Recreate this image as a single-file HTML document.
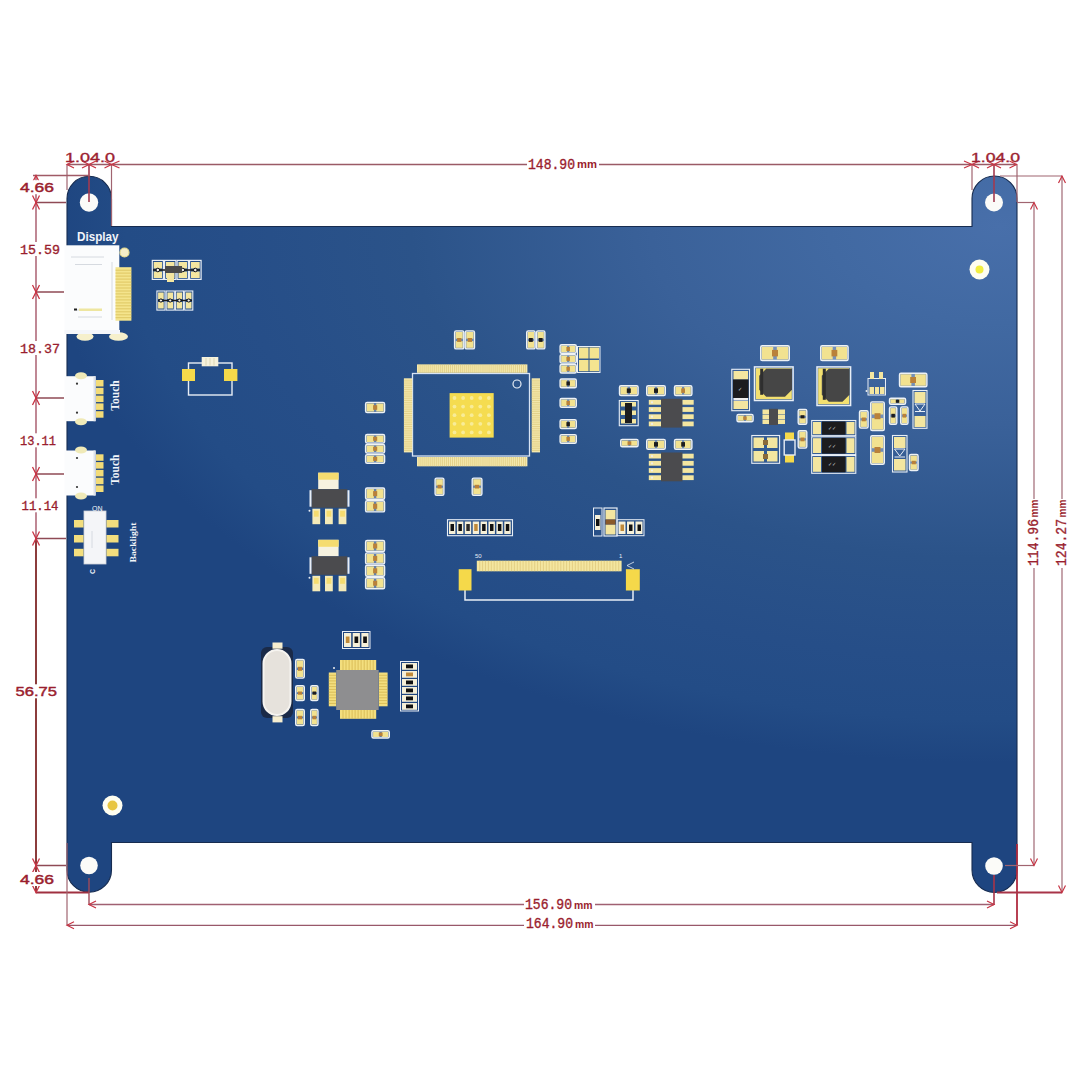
<!DOCTYPE html>
<html><head><meta charset="utf-8">
<style>
html,body{margin:0;padding:0;background:#fff;width:1080px;height:1080px;overflow:hidden}
svg{display:block}
.dm{font-family:"Liberation Mono",monospace;font-weight:normal;fill:#9a1e2e;stroke:#9a1e2e;stroke-width:0.35}
.ds{font-family:"Liberation Sans",sans-serif;font-weight:bold;fill:#9a1e2e}
.lbl{font-family:"Liberation Sans",sans-serif;font-weight:bold;fill:#f2f5fa}
</style></head>
<body>
<svg width="1080" height="1080" viewBox="0 0 1080 1080">
<defs>
<radialGradient id="bg" gradientUnits="userSpaceOnUse" cx="1000" cy="226" r="950" gradientTransform="translate(1000 226) scale(1 0.565) translate(-1000 -226)">
<stop offset="0" stop-color="#486faa"/>
<stop offset="0.18" stop-color="#4169a2"/>
<stop offset="0.368" stop-color="#3a6199"/>
<stop offset="0.62" stop-color="#2b5389"/>
<stop offset="0.805" stop-color="#264e88"/>
<stop offset="0.92" stop-color="#234c86"/>
<stop offset="1" stop-color="#1e4580"/>
</radialGradient>
</defs>
<rect width="1080" height="1080" fill="#fff"/>

<path fill="url(#bg)" stroke="#172c50" stroke-width="1.1" d="M67,198.5 A22.25,22.25 0 0 1 111.5,198.5 L111.5,226.5 L972,226.5 L972,198.5 A22.5,22.5 0 0 1 1017,198.5 L1017,870 A22.5,22.5 0 0 1 972,870 L972,842.5 L111.5,842.5 L111.5,870 A22.25,22.25 0 0 1 67,870 Z"/>
<g fill="#fbfbf8"><circle cx="89" cy="202.5" r="9.2"/><circle cx="994" cy="202.5" r="9"/><circle cx="89" cy="865.5" r="8.8"/><circle cx="994" cy="866" r="8.8"/></g>
<circle cx="979.5" cy="269.5" r="10" fill="#fffef0"/><circle cx="979.5" cy="269.5" r="4" fill="#f2ee40"/>
<circle cx="112.5" cy="805.5" r="10" fill="#fffef0"/><circle cx="112.5" cy="805.5" r="5" fill="#e8c640"/>
<rect x="64.5" y="245.3" width="54.8" height="88.0" fill="#fbfcfd" />
<g stroke="#d6dae0" stroke-width="1"><line x1="71" y1="257" x2="104" y2="257"/><line x1="75" y1="264.5" x2="102" y2="264.5"/><line x1="74" y1="310" x2="102" y2="310"/><line x1="78" y1="317" x2="102" y2="317"/><line x1="112" y1="262" x2="112" y2="320"/></g>
<rect x="74.0" y="308.5" width="3.0" height="2.0" fill="#222" />
<rect x="79.0" y="308.5" width="23.0" height="2.5" fill="#eee6a0" />
<rect x="115.5" y="267.2" width="15.9" height="53.5" fill="#f4e48c" />
<g stroke="#d0b448" stroke-width="0.6"><line x1="115.5" y1="270.2" x2="131.4" y2="270.2"/><line x1="115.5" y1="273.1" x2="131.4" y2="273.1"/><line x1="115.5" y1="276.1" x2="131.4" y2="276.1"/><line x1="115.5" y1="279.1" x2="131.4" y2="279.1"/><line x1="115.5" y1="282.1" x2="131.4" y2="282.1"/><line x1="115.5" y1="285.0" x2="131.4" y2="285.0"/><line x1="115.5" y1="288.0" x2="131.4" y2="288.0"/><line x1="115.5" y1="291.0" x2="131.4" y2="291.0"/><line x1="115.5" y1="293.9" x2="131.4" y2="293.9"/><line x1="115.5" y1="296.9" x2="131.4" y2="296.9"/><line x1="115.5" y1="299.9" x2="131.4" y2="299.9"/><line x1="115.5" y1="302.9" x2="131.4" y2="302.9"/><line x1="115.5" y1="305.8" x2="131.4" y2="305.8"/><line x1="115.5" y1="308.8" x2="131.4" y2="308.8"/><line x1="115.5" y1="311.8" x2="131.4" y2="311.8"/><line x1="115.5" y1="314.8" x2="131.4" y2="314.8"/><line x1="115.5" y1="317.7" x2="131.4" y2="317.7"/></g>
<circle cx="124.5" cy="252.5" r="4.5" fill="#f4eec8" stroke="#e8dd90" stroke-width="1.2"/>
<ellipse cx="85" cy="336.5" rx="8.5" ry="4.3" fill="#f6f0cc"/><ellipse cx="118.5" cy="336.5" rx="9.5" ry="4.3" fill="#f6f0cc"/>
<rect x="64.5" y="330.0" width="55.5" height="4.0" fill="#f4f6fa" />
<text class="lbl" x="77" y="241" font-size="12" textLength="41.5" lengthAdjust="spacingAndGlyphs">Display</text>
<rect x="64.5" y="376.2" width="31.1" height="45.0" fill="#fbfcfd" />
<ellipse cx="81" cy="375.7" rx="6" ry="3.5" fill="#f0eab8"/><ellipse cx="81" cy="421.7" rx="6" ry="3.5" fill="#f0eab8"/>
<circle cx="77" cy="383.7" r="1.1" fill="#333"/><circle cx="77" cy="412.7" r="1.1" fill="#333"/>
<rect x="93.5" y="376.2" width="2.1" height="45.0" fill="#dfe3ea" />
<rect x="96.0" y="380.0" width="7.5" height="6.5" fill="#f3dc78" />
<rect x="96.0" y="387.8" width="7.5" height="6.5" fill="#f3dc78" />
<rect x="96.0" y="395.6" width="7.5" height="6.5" fill="#f3dc78" />
<rect x="96.0" y="403.4" width="7.5" height="6.5" fill="#f3dc78" />
<rect x="96.0" y="411.2" width="7.5" height="6.5" fill="#f3dc78" />
<g transform="translate(119.3,410.7) rotate(-90)"><text class="lbl" x="0" y="0" font-size="11.5" style="font-family:&quot;Liberation Serif&quot;,serif" textLength="30.5" lengthAdjust="spacingAndGlyphs">Touch</text></g>
<rect x="64.5" y="450.5" width="31.1" height="45.0" fill="#fbfcfd" />
<ellipse cx="81" cy="450.0" rx="6" ry="3.5" fill="#f0eab8"/><ellipse cx="81" cy="496.0" rx="6" ry="3.5" fill="#f0eab8"/>
<circle cx="77" cy="458.0" r="1.1" fill="#333"/><circle cx="77" cy="487.0" r="1.1" fill="#333"/>
<rect x="93.5" y="450.5" width="2.1" height="45.0" fill="#dfe3ea" />
<rect x="96.0" y="454.3" width="7.5" height="6.5" fill="#f3dc78" />
<rect x="96.0" y="462.1" width="7.5" height="6.5" fill="#f3dc78" />
<rect x="96.0" y="469.9" width="7.5" height="6.5" fill="#f3dc78" />
<rect x="96.0" y="477.7" width="7.5" height="6.5" fill="#f3dc78" />
<rect x="96.0" y="485.5" width="7.5" height="6.5" fill="#f3dc78" />
<g transform="translate(119.3,485.0) rotate(-90)"><text class="lbl" x="0" y="0" font-size="11.5" style="font-family:&quot;Liberation Serif&quot;,serif" textLength="30.5" lengthAdjust="spacingAndGlyphs">Touch</text></g>
<rect x="84.0" y="511.0" width="22.0" height="53.0" fill="#f4f5f8" />
<g stroke="#cfd3da" stroke-width="0.8" fill="none"><rect x="84" y="511" width="22" height="53"/><line x1="92" y1="531" x2="92" y2="548"/></g>
<rect x="74.0" y="520.0" width="9.5" height="7.5" fill="#f3de7e" />
<rect x="106.5" y="520.0" width="12.0" height="7.5" fill="#f3de7e" />
<rect x="74.0" y="535.0" width="9.5" height="7.5" fill="#f3de7e" />
<rect x="106.5" y="535.0" width="12.0" height="7.5" fill="#f3de7e" />
<rect x="74.0" y="548.8" width="9.5" height="7.5" fill="#f3de7e" />
<rect x="106.5" y="548.8" width="12.0" height="7.5" fill="#f3de7e" />
<g transform="translate(135.5,562.5) rotate(-90)"><text class="lbl" x="0" y="0" font-size="9" style="font-family:&quot;Liberation Serif&quot;,serif" textLength="40" lengthAdjust="spacingAndGlyphs">Backlight</text></g>
<text class="lbl" x="92" y="511" font-size="7" style="font-weight:normal">ON</text>
<g transform="translate(94.5,574) rotate(-90)"><text class="lbl" x="0" y="0" font-size="7" font-weight="normal">C</text></g>
<rect x="152.3" y="260.4" width="11.1" height="19.0" fill="none" stroke="#e8eef6" stroke-width="1.2"/>
<rect x="153.7" y="262.0" width="8.3" height="6.5" fill="#f4e6a0" />
<rect x="153.7" y="271.5" width="8.3" height="6.5" fill="#f4e6a0" />
<rect x="164.6" y="260.4" width="11.3" height="19.0" fill="none" stroke="#e8eef6" stroke-width="1.2"/>
<rect x="166.0" y="262.0" width="8.5" height="6.5" fill="#f4e6a0" />
<rect x="166.0" y="271.5" width="8.5" height="6.5" fill="#f4e6a0" />
<rect x="177.1" y="260.4" width="11.3" height="19.0" fill="none" stroke="#e8eef6" stroke-width="1.2"/>
<rect x="178.5" y="262.0" width="8.5" height="6.5" fill="#f4e6a0" />
<rect x="178.5" y="271.5" width="8.5" height="6.5" fill="#f4e6a0" />
<rect x="189.6" y="260.4" width="11.5" height="19.0" fill="none" stroke="#e8eef6" stroke-width="1.2"/>
<rect x="191.0" y="262.0" width="8.7" height="6.5" fill="#f4e6a0" />
<rect x="191.0" y="271.5" width="8.7" height="6.5" fill="#f4e6a0" />
<g stroke="#1a1a1a" stroke-width="1.4" fill="none"><line x1="153" y1="270" x2="200" y2="270"/></g>
<circle cx="157.8" cy="270" r="1.8" fill="#eee" stroke="#111" stroke-width="1"/>
<circle cx="170.3" cy="270" r="1.8" fill="#eee" stroke="#111" stroke-width="1"/>
<circle cx="182.8" cy="270" r="1.8" fill="#eee" stroke="#111" stroke-width="1"/>
<circle cx="195.3" cy="270" r="1.8" fill="#eee" stroke="#111" stroke-width="1"/>
<rect x="165.0" y="266.0" width="17.0" height="7.0" fill="#4a4a4a" />
<rect x="167.0" y="276.0" width="7.0" height="6.0" fill="#f4e6a0" />
<rect x="156.9" y="291.0" width="8.1" height="19.1" fill="none" stroke="#e8eef6" stroke-width="1.1"/>
<rect x="158.1" y="292.5" width="5.6" height="6.5" fill="#f4e6a0" />
<rect x="158.1" y="302.0" width="5.6" height="6.5" fill="#f4e6a0" />
<rect x="166.2" y="291.0" width="8.1" height="19.1" fill="none" stroke="#e8eef6" stroke-width="1.1"/>
<rect x="167.4" y="292.5" width="5.6" height="6.5" fill="#f4e6a0" />
<rect x="167.4" y="302.0" width="5.6" height="6.5" fill="#f4e6a0" />
<rect x="175.4" y="291.0" width="8.1" height="19.1" fill="none" stroke="#e8eef6" stroke-width="1.1"/>
<rect x="176.6" y="292.5" width="5.6" height="6.5" fill="#f4e6a0" />
<rect x="176.6" y="302.0" width="5.6" height="6.5" fill="#f4e6a0" />
<rect x="184.7" y="291.0" width="8.1" height="19.1" fill="none" stroke="#e8eef6" stroke-width="1.1"/>
<rect x="185.9" y="292.5" width="5.6" height="6.5" fill="#f4e6a0" />
<rect x="185.9" y="302.0" width="5.6" height="6.5" fill="#f4e6a0" />
<g stroke="#1a1a1a" stroke-width="1.4"><line x1="158" y1="300.5" x2="192" y2="300.5"/></g>
<circle cx="160.9" cy="300.5" r="1.6" fill="#eee" stroke="#111" stroke-width="1"/>
<circle cx="170.2" cy="300.5" r="1.6" fill="#eee" stroke="#111" stroke-width="1"/>
<circle cx="179.4" cy="300.5" r="1.6" fill="#eee" stroke="#111" stroke-width="1"/>
<circle cx="188.7" cy="300.5" r="1.6" fill="#eee" stroke="#111" stroke-width="1"/>
<rect x="188.5" y="363.0" width="43.5" height="32.0" fill="none" stroke="#e8eef6" stroke-width="1.4"/>
<rect x="201.7" y="357.0" width="16.6" height="9.3" fill="#f6f2dc" />
<g stroke="#cfc7a0" stroke-width="0.6"><line x1="206" y1="358" x2="206" y2="365.5"/><line x1="210" y1="358" x2="210" y2="365.5"/><line x1="214" y1="358" x2="214" y2="365.5"/></g>
<rect x="182.0" y="369.0" width="13.0" height="12.0" fill="#f5d94a" />
<rect x="224.0" y="369.0" width="13.4" height="12.0" fill="#f5d94a" />
<rect x="412.5" y="373.5" width="117.0" height="82.5" fill="none" stroke="#d8e4f4" stroke-width="1.3"/>
<rect x="417.0" y="364.4" width="110.4" height="8.4" fill="#f5e9ae" />
<g stroke="#d9c274" stroke-width="0.6"><line x1="419.0" y1="364.4" x2="419.0" y2="372.8"/><line x1="420.9" y1="364.4" x2="420.9" y2="372.8"/><line x1="422.9" y1="364.4" x2="422.9" y2="372.8"/><line x1="424.9" y1="364.4" x2="424.9" y2="372.8"/><line x1="426.9" y1="364.4" x2="426.9" y2="372.8"/><line x1="428.8" y1="364.4" x2="428.8" y2="372.8"/><line x1="430.8" y1="364.4" x2="430.8" y2="372.8"/><line x1="432.8" y1="364.4" x2="432.8" y2="372.8"/><line x1="434.7" y1="364.4" x2="434.7" y2="372.8"/><line x1="436.7" y1="364.4" x2="436.7" y2="372.8"/><line x1="438.7" y1="364.4" x2="438.7" y2="372.8"/><line x1="440.7" y1="364.4" x2="440.7" y2="372.8"/><line x1="442.6" y1="364.4" x2="442.6" y2="372.8"/><line x1="444.6" y1="364.4" x2="444.6" y2="372.8"/><line x1="446.6" y1="364.4" x2="446.6" y2="372.8"/><line x1="448.5" y1="364.4" x2="448.5" y2="372.8"/><line x1="450.5" y1="364.4" x2="450.5" y2="372.8"/><line x1="452.5" y1="364.4" x2="452.5" y2="372.8"/><line x1="454.5" y1="364.4" x2="454.5" y2="372.8"/><line x1="456.4" y1="364.4" x2="456.4" y2="372.8"/><line x1="458.4" y1="364.4" x2="458.4" y2="372.8"/><line x1="460.4" y1="364.4" x2="460.4" y2="372.8"/><line x1="462.3" y1="364.4" x2="462.3" y2="372.8"/><line x1="464.3" y1="364.4" x2="464.3" y2="372.8"/><line x1="466.3" y1="364.4" x2="466.3" y2="372.8"/><line x1="468.3" y1="364.4" x2="468.3" y2="372.8"/><line x1="470.2" y1="364.4" x2="470.2" y2="372.8"/><line x1="472.2" y1="364.4" x2="472.2" y2="372.8"/><line x1="474.2" y1="364.4" x2="474.2" y2="372.8"/><line x1="476.1" y1="364.4" x2="476.1" y2="372.8"/><line x1="478.1" y1="364.4" x2="478.1" y2="372.8"/><line x1="480.1" y1="364.4" x2="480.1" y2="372.8"/><line x1="482.1" y1="364.4" x2="482.1" y2="372.8"/><line x1="484.0" y1="364.4" x2="484.0" y2="372.8"/><line x1="486.0" y1="364.4" x2="486.0" y2="372.8"/><line x1="488.0" y1="364.4" x2="488.0" y2="372.8"/><line x1="489.9" y1="364.4" x2="489.9" y2="372.8"/><line x1="491.9" y1="364.4" x2="491.9" y2="372.8"/><line x1="493.9" y1="364.4" x2="493.9" y2="372.8"/><line x1="495.9" y1="364.4" x2="495.9" y2="372.8"/><line x1="497.8" y1="364.4" x2="497.8" y2="372.8"/><line x1="499.8" y1="364.4" x2="499.8" y2="372.8"/><line x1="501.8" y1="364.4" x2="501.8" y2="372.8"/><line x1="503.7" y1="364.4" x2="503.7" y2="372.8"/><line x1="505.7" y1="364.4" x2="505.7" y2="372.8"/><line x1="507.7" y1="364.4" x2="507.7" y2="372.8"/><line x1="509.7" y1="364.4" x2="509.7" y2="372.8"/><line x1="511.6" y1="364.4" x2="511.6" y2="372.8"/><line x1="513.6" y1="364.4" x2="513.6" y2="372.8"/><line x1="515.6" y1="364.4" x2="515.6" y2="372.8"/><line x1="517.5" y1="364.4" x2="517.5" y2="372.8"/><line x1="519.5" y1="364.4" x2="519.5" y2="372.8"/><line x1="521.5" y1="364.4" x2="521.5" y2="372.8"/><line x1="523.5" y1="364.4" x2="523.5" y2="372.8"/><line x1="525.4" y1="364.4" x2="525.4" y2="372.8"/></g>
<rect x="417.0" y="457.0" width="110.4" height="9.3" fill="#f5e9ae" />
<g stroke="#d9c274" stroke-width="0.6"><line x1="419.0" y1="457" x2="419.0" y2="466.3"/><line x1="420.9" y1="457" x2="420.9" y2="466.3"/><line x1="422.9" y1="457" x2="422.9" y2="466.3"/><line x1="424.9" y1="457" x2="424.9" y2="466.3"/><line x1="426.9" y1="457" x2="426.9" y2="466.3"/><line x1="428.8" y1="457" x2="428.8" y2="466.3"/><line x1="430.8" y1="457" x2="430.8" y2="466.3"/><line x1="432.8" y1="457" x2="432.8" y2="466.3"/><line x1="434.7" y1="457" x2="434.7" y2="466.3"/><line x1="436.7" y1="457" x2="436.7" y2="466.3"/><line x1="438.7" y1="457" x2="438.7" y2="466.3"/><line x1="440.7" y1="457" x2="440.7" y2="466.3"/><line x1="442.6" y1="457" x2="442.6" y2="466.3"/><line x1="444.6" y1="457" x2="444.6" y2="466.3"/><line x1="446.6" y1="457" x2="446.6" y2="466.3"/><line x1="448.5" y1="457" x2="448.5" y2="466.3"/><line x1="450.5" y1="457" x2="450.5" y2="466.3"/><line x1="452.5" y1="457" x2="452.5" y2="466.3"/><line x1="454.5" y1="457" x2="454.5" y2="466.3"/><line x1="456.4" y1="457" x2="456.4" y2="466.3"/><line x1="458.4" y1="457" x2="458.4" y2="466.3"/><line x1="460.4" y1="457" x2="460.4" y2="466.3"/><line x1="462.3" y1="457" x2="462.3" y2="466.3"/><line x1="464.3" y1="457" x2="464.3" y2="466.3"/><line x1="466.3" y1="457" x2="466.3" y2="466.3"/><line x1="468.3" y1="457" x2="468.3" y2="466.3"/><line x1="470.2" y1="457" x2="470.2" y2="466.3"/><line x1="472.2" y1="457" x2="472.2" y2="466.3"/><line x1="474.2" y1="457" x2="474.2" y2="466.3"/><line x1="476.1" y1="457" x2="476.1" y2="466.3"/><line x1="478.1" y1="457" x2="478.1" y2="466.3"/><line x1="480.1" y1="457" x2="480.1" y2="466.3"/><line x1="482.1" y1="457" x2="482.1" y2="466.3"/><line x1="484.0" y1="457" x2="484.0" y2="466.3"/><line x1="486.0" y1="457" x2="486.0" y2="466.3"/><line x1="488.0" y1="457" x2="488.0" y2="466.3"/><line x1="489.9" y1="457" x2="489.9" y2="466.3"/><line x1="491.9" y1="457" x2="491.9" y2="466.3"/><line x1="493.9" y1="457" x2="493.9" y2="466.3"/><line x1="495.9" y1="457" x2="495.9" y2="466.3"/><line x1="497.8" y1="457" x2="497.8" y2="466.3"/><line x1="499.8" y1="457" x2="499.8" y2="466.3"/><line x1="501.8" y1="457" x2="501.8" y2="466.3"/><line x1="503.7" y1="457" x2="503.7" y2="466.3"/><line x1="505.7" y1="457" x2="505.7" y2="466.3"/><line x1="507.7" y1="457" x2="507.7" y2="466.3"/><line x1="509.7" y1="457" x2="509.7" y2="466.3"/><line x1="511.6" y1="457" x2="511.6" y2="466.3"/><line x1="513.6" y1="457" x2="513.6" y2="466.3"/><line x1="515.6" y1="457" x2="515.6" y2="466.3"/><line x1="517.5" y1="457" x2="517.5" y2="466.3"/><line x1="519.5" y1="457" x2="519.5" y2="466.3"/><line x1="521.5" y1="457" x2="521.5" y2="466.3"/><line x1="523.5" y1="457" x2="523.5" y2="466.3"/><line x1="525.4" y1="457" x2="525.4" y2="466.3"/></g>
<rect x="403.9" y="378.3" width="8.3" height="74.1" fill="#f5e9ae" />
<g stroke="#d9c274" stroke-width="0.6"><line x1="403.9" y1="380.2" x2="412.2" y2="380.2"/><line x1="403.9" y1="382.0" x2="412.2" y2="382.0"/><line x1="403.9" y1="383.9" x2="412.2" y2="383.9"/><line x1="403.9" y1="385.7" x2="412.2" y2="385.7"/><line x1="403.9" y1="387.6" x2="412.2" y2="387.6"/><line x1="403.9" y1="389.4" x2="412.2" y2="389.4"/><line x1="403.9" y1="391.3" x2="412.2" y2="391.3"/><line x1="403.9" y1="393.1" x2="412.2" y2="393.1"/><line x1="403.9" y1="395.0" x2="412.2" y2="395.0"/><line x1="403.9" y1="396.8" x2="412.2" y2="396.8"/><line x1="403.9" y1="398.7" x2="412.2" y2="398.7"/><line x1="403.9" y1="400.5" x2="412.2" y2="400.5"/><line x1="403.9" y1="402.4" x2="412.2" y2="402.4"/><line x1="403.9" y1="404.2" x2="412.2" y2="404.2"/><line x1="403.9" y1="406.1" x2="412.2" y2="406.1"/><line x1="403.9" y1="407.9" x2="412.2" y2="407.9"/><line x1="403.9" y1="409.8" x2="412.2" y2="409.8"/><line x1="403.9" y1="411.6" x2="412.2" y2="411.6"/><line x1="403.9" y1="413.5" x2="412.2" y2="413.5"/><line x1="403.9" y1="415.4" x2="412.2" y2="415.4"/><line x1="403.9" y1="417.2" x2="412.2" y2="417.2"/><line x1="403.9" y1="419.1" x2="412.2" y2="419.1"/><line x1="403.9" y1="420.9" x2="412.2" y2="420.9"/><line x1="403.9" y1="422.8" x2="412.2" y2="422.8"/><line x1="403.9" y1="424.6" x2="412.2" y2="424.6"/><line x1="403.9" y1="426.5" x2="412.2" y2="426.5"/><line x1="403.9" y1="428.3" x2="412.2" y2="428.3"/><line x1="403.9" y1="430.2" x2="412.2" y2="430.2"/><line x1="403.9" y1="432.0" x2="412.2" y2="432.0"/><line x1="403.9" y1="433.9" x2="412.2" y2="433.9"/><line x1="403.9" y1="435.7" x2="412.2" y2="435.7"/><line x1="403.9" y1="437.6" x2="412.2" y2="437.6"/><line x1="403.9" y1="439.4" x2="412.2" y2="439.4"/><line x1="403.9" y1="441.3" x2="412.2" y2="441.3"/><line x1="403.9" y1="443.1" x2="412.2" y2="443.1"/><line x1="403.9" y1="445.0" x2="412.2" y2="445.0"/><line x1="403.9" y1="446.8" x2="412.2" y2="446.8"/><line x1="403.9" y1="448.7" x2="412.2" y2="448.7"/><line x1="403.9" y1="450.5" x2="412.2" y2="450.5"/></g>
<rect x="531.7" y="378.3" width="8.3" height="74.1" fill="#f5e9ae" />
<g stroke="#d9c274" stroke-width="0.6"><line x1="531.7" y1="380.2" x2="540" y2="380.2"/><line x1="531.7" y1="382.0" x2="540" y2="382.0"/><line x1="531.7" y1="383.9" x2="540" y2="383.9"/><line x1="531.7" y1="385.7" x2="540" y2="385.7"/><line x1="531.7" y1="387.6" x2="540" y2="387.6"/><line x1="531.7" y1="389.4" x2="540" y2="389.4"/><line x1="531.7" y1="391.3" x2="540" y2="391.3"/><line x1="531.7" y1="393.1" x2="540" y2="393.1"/><line x1="531.7" y1="395.0" x2="540" y2="395.0"/><line x1="531.7" y1="396.8" x2="540" y2="396.8"/><line x1="531.7" y1="398.7" x2="540" y2="398.7"/><line x1="531.7" y1="400.5" x2="540" y2="400.5"/><line x1="531.7" y1="402.4" x2="540" y2="402.4"/><line x1="531.7" y1="404.2" x2="540" y2="404.2"/><line x1="531.7" y1="406.1" x2="540" y2="406.1"/><line x1="531.7" y1="407.9" x2="540" y2="407.9"/><line x1="531.7" y1="409.8" x2="540" y2="409.8"/><line x1="531.7" y1="411.6" x2="540" y2="411.6"/><line x1="531.7" y1="413.5" x2="540" y2="413.5"/><line x1="531.7" y1="415.4" x2="540" y2="415.4"/><line x1="531.7" y1="417.2" x2="540" y2="417.2"/><line x1="531.7" y1="419.1" x2="540" y2="419.1"/><line x1="531.7" y1="420.9" x2="540" y2="420.9"/><line x1="531.7" y1="422.8" x2="540" y2="422.8"/><line x1="531.7" y1="424.6" x2="540" y2="424.6"/><line x1="531.7" y1="426.5" x2="540" y2="426.5"/><line x1="531.7" y1="428.3" x2="540" y2="428.3"/><line x1="531.7" y1="430.2" x2="540" y2="430.2"/><line x1="531.7" y1="432.0" x2="540" y2="432.0"/><line x1="531.7" y1="433.9" x2="540" y2="433.9"/><line x1="531.7" y1="435.7" x2="540" y2="435.7"/><line x1="531.7" y1="437.6" x2="540" y2="437.6"/><line x1="531.7" y1="439.4" x2="540" y2="439.4"/><line x1="531.7" y1="441.3" x2="540" y2="441.3"/><line x1="531.7" y1="443.1" x2="540" y2="443.1"/><line x1="531.7" y1="445.0" x2="540" y2="445.0"/><line x1="531.7" y1="446.8" x2="540" y2="446.8"/><line x1="531.7" y1="448.7" x2="540" y2="448.7"/><line x1="531.7" y1="450.5" x2="540" y2="450.5"/></g>
<rect x="449.6" y="393.1" width="44.1" height="44.5" fill="#f5dc50" />
<g fill="#f8ec98"><circle cx="454.5" cy="398.0" r="1.9"/><circle cx="454.5" cy="406.6" r="1.9"/><circle cx="454.5" cy="415.2" r="1.9"/><circle cx="454.5" cy="423.8" r="1.9"/><circle cx="454.5" cy="432.4" r="1.9"/><circle cx="463.1" cy="398.0" r="1.9"/><circle cx="463.1" cy="406.6" r="1.9"/><circle cx="463.1" cy="415.2" r="1.9"/><circle cx="463.1" cy="423.8" r="1.9"/><circle cx="463.1" cy="432.4" r="1.9"/><circle cx="471.7" cy="398.0" r="1.9"/><circle cx="471.7" cy="406.6" r="1.9"/><circle cx="471.7" cy="415.2" r="1.9"/><circle cx="471.7" cy="423.8" r="1.9"/><circle cx="471.7" cy="432.4" r="1.9"/><circle cx="480.3" cy="398.0" r="1.9"/><circle cx="480.3" cy="406.6" r="1.9"/><circle cx="480.3" cy="415.2" r="1.9"/><circle cx="480.3" cy="423.8" r="1.9"/><circle cx="480.3" cy="432.4" r="1.9"/><circle cx="488.9" cy="398.0" r="1.9"/><circle cx="488.9" cy="406.6" r="1.9"/><circle cx="488.9" cy="415.2" r="1.9"/><circle cx="488.9" cy="423.8" r="1.9"/><circle cx="488.9" cy="432.4" r="1.9"/></g>
<circle cx="517" cy="384" r="4" fill="none" stroke="#e8eef6" stroke-width="1.2"/>
<rect x="454.6" y="330.9" width="9.2" height="18.0" rx="1.5" fill="#dfe6ee" fill-opacity="0.35" stroke="#eef2f5" stroke-width="1.4"/>
<rect x="455.7" y="332.0" width="7.0" height="6.7" fill="#f2e290" />
<rect x="455.7" y="341.1" width="7.0" height="6.7" fill="#f2e290" />
<rect x="457.1" y="338.0" width="4.3" height="3.9" fill="#b9813a" />
<rect x="465.2" y="330.9" width="9.3" height="18.0" rx="1.5" fill="#dfe6ee" fill-opacity="0.35" stroke="#eef2f5" stroke-width="1.4"/>
<rect x="466.3" y="332.0" width="7.1" height="6.7" fill="#f2e290" />
<rect x="466.3" y="341.1" width="7.1" height="6.7" fill="#f2e290" />
<rect x="467.7" y="338.0" width="4.3" height="3.9" fill="#b9813a" />
<rect x="526.7" y="330.9" width="8.4" height="18.0" rx="1.5" fill="#dfe6ee" fill-opacity="0.35" stroke="#eef2f5" stroke-width="1.4"/>
<rect x="527.8" y="332.0" width="6.2" height="6.7" fill="#f2e290" />
<rect x="527.8" y="341.1" width="6.2" height="6.7" fill="#f2e290" />
<rect x="528.9" y="338.0" width="3.9" height="3.9" fill="#1c1c1e" />
<rect x="536.5" y="330.9" width="8.4" height="18.0" rx="1.5" fill="#dfe6ee" fill-opacity="0.35" stroke="#eef2f5" stroke-width="1.4"/>
<rect x="537.6" y="332.0" width="6.2" height="6.7" fill="#f2e290" />
<rect x="537.6" y="341.1" width="6.2" height="6.7" fill="#f2e290" />
<rect x="538.7" y="338.0" width="3.9" height="3.9" fill="#1c1c1e" />
<rect x="560.1" y="344.7" width="16.2" height="8.5" rx="1.5" fill="#dfe6ee" fill-opacity="0.35" stroke="#eef2f5" stroke-width="1.4"/>
<rect x="561.2" y="345.8" width="5.9" height="6.3" fill="#f2e290" />
<rect x="569.3" y="345.8" width="5.9" height="6.3" fill="#f2e290" />
<rect x="566.4" y="347.0" width="3.5" height="4.0" fill="#b9813a" />
<rect x="560.1" y="354.6" width="16.2" height="8.5" rx="1.5" fill="#dfe6ee" fill-opacity="0.35" stroke="#eef2f5" stroke-width="1.4"/>
<rect x="561.2" y="355.7" width="5.9" height="6.3" fill="#f2e290" />
<rect x="569.3" y="355.7" width="5.9" height="6.3" fill="#f2e290" />
<rect x="566.4" y="356.9" width="3.5" height="4.0" fill="#b9813a" />
<rect x="560.1" y="364.5" width="16.2" height="8.5" rx="1.5" fill="#dfe6ee" fill-opacity="0.35" stroke="#eef2f5" stroke-width="1.4"/>
<rect x="561.2" y="365.6" width="5.9" height="6.3" fill="#f2e290" />
<rect x="569.3" y="365.6" width="5.9" height="6.3" fill="#f2e290" />
<rect x="566.4" y="366.8" width="3.5" height="4.0" fill="#b9813a" />
<rect x="579.0" y="347.5" width="9.5" height="11.0" fill="#f4e490" />
<rect x="589.5" y="347.5" width="9.5" height="11.0" fill="#f4e490" />
<rect x="579.0" y="360.0" width="9.5" height="11.2" fill="#f4e490" />
<rect x="589.5" y="360.0" width="9.5" height="11.2" fill="#f4e490" />
<rect x="577.5" y="346.5" width="22.5" height="26.0" fill="none" stroke="#e8eef6" stroke-width="1"/>
<rect x="560.1" y="379.0" width="16.2" height="8.8" rx="1.5" fill="#dfe6ee" fill-opacity="0.35" stroke="#eef2f5" stroke-width="1.4"/>
<rect x="561.2" y="380.1" width="5.9" height="6.6" fill="#f2e290" />
<rect x="569.3" y="380.1" width="5.9" height="6.6" fill="#f2e290" />
<rect x="566.4" y="381.4" width="3.5" height="4.1" fill="#1c1c1e" />
<rect x="560.1" y="398.5" width="16.2" height="8.8" rx="1.5" fill="#dfe6ee" fill-opacity="0.35" stroke="#eef2f5" stroke-width="1.4"/>
<rect x="561.2" y="399.6" width="5.9" height="6.6" fill="#f2e290" />
<rect x="569.3" y="399.6" width="5.9" height="6.6" fill="#f2e290" />
<rect x="566.4" y="400.9" width="3.5" height="4.1" fill="#b9813a" />
<rect x="560.1" y="419.7" width="16.2" height="8.9" rx="1.5" fill="#dfe6ee" fill-opacity="0.35" stroke="#eef2f5" stroke-width="1.4"/>
<rect x="561.2" y="420.8" width="5.9" height="6.7" fill="#f2e290" />
<rect x="569.3" y="420.8" width="5.9" height="6.7" fill="#f2e290" />
<rect x="566.4" y="422.1" width="3.5" height="4.1" fill="#1c1c1e" />
<rect x="560.1" y="434.6" width="16.2" height="8.7" rx="1.5" fill="#dfe6ee" fill-opacity="0.35" stroke="#eef2f5" stroke-width="1.4"/>
<rect x="561.2" y="435.7" width="5.9" height="6.5" fill="#f2e290" />
<rect x="569.3" y="435.7" width="5.9" height="6.5" fill="#f2e290" />
<rect x="566.4" y="436.9" width="3.5" height="4.0" fill="#b9813a" />
<rect x="435.1" y="478.1" width="8.8" height="17.2" rx="1.5" fill="#dfe6ee" fill-opacity="0.35" stroke="#eef2f5" stroke-width="1.4"/>
<rect x="436.2" y="479.2" width="6.6" height="6.4" fill="#f2e290" />
<rect x="436.2" y="487.8" width="6.6" height="6.4" fill="#f2e290" />
<rect x="437.5" y="484.8" width="4.1" height="3.7" fill="#b9813a" />
<rect x="472.2" y="478.1" width="9.7" height="17.2" rx="1.5" fill="#dfe6ee" fill-opacity="0.35" stroke="#eef2f5" stroke-width="1.4"/>
<rect x="473.3" y="479.2" width="7.5" height="6.4" fill="#f2e290" />
<rect x="473.3" y="487.8" width="7.5" height="6.4" fill="#f2e290" />
<rect x="474.8" y="484.8" width="4.4" height="3.7" fill="#b9813a" />
<rect x="619.5" y="385.7" width="18.6" height="9.8" rx="1.5" fill="#dfe6ee" fill-opacity="0.35" stroke="#eef2f5" stroke-width="1.4"/>
<rect x="620.5" y="386.8" width="7.0" height="7.6" fill="#f2e290" />
<rect x="630.0" y="386.8" width="7.0" height="7.6" fill="#f2e290" />
<rect x="626.8" y="388.4" width="4.0" height="4.5" fill="#1c1c1e" />
<rect x="646.7" y="385.7" width="18.6" height="9.8" rx="1.5" fill="#dfe6ee" fill-opacity="0.35" stroke="#eef2f5" stroke-width="1.4"/>
<rect x="647.8" y="386.8" width="7.0" height="7.6" fill="#f2e290" />
<rect x="657.2" y="386.8" width="7.0" height="7.6" fill="#f2e290" />
<rect x="654.0" y="388.4" width="4.0" height="4.5" fill="#1c1c1e" />
<rect x="674.5" y="385.7" width="17.4" height="9.8" rx="1.5" fill="#dfe6ee" fill-opacity="0.35" stroke="#eef2f5" stroke-width="1.4"/>
<rect x="675.5" y="386.8" width="6.5" height="7.6" fill="#f2e290" />
<rect x="684.2" y="386.8" width="6.5" height="7.6" fill="#f2e290" />
<rect x="681.2" y="388.4" width="3.8" height="4.5" fill="#b9813a" />
<rect x="619.3" y="400.5" width="18.9" height="25.2" fill="none" stroke="#e8eef6" stroke-width="1.1"/>
<rect x="621.0" y="402.0" width="15.0" height="4.5" fill="#f4e6a0" />
<rect x="621.0" y="410.5" width="15.0" height="4.5" fill="#f4e6a0" />
<rect x="621.0" y="419.0" width="15.0" height="4.5" fill="#f4e6a0" />
<rect x="625.0" y="403.0" width="7.0" height="20.0" fill="#1c1c1e" />
<rect x="661.0" y="398.8" width="21.5" height="28.8" fill="#4b4b4e" />
<rect x="648.8" y="399.9" width="12.2" height="4.8" fill="#f4e6a0" />
<rect x="682.5" y="399.9" width="11.2" height="4.8" fill="#f4e6a0" />
<circle cx="652" cy="402.3" r="1.1" fill="#eee"/>
<rect x="648.8" y="407.1" width="12.2" height="4.8" fill="#f4e6a0" />
<rect x="682.5" y="407.1" width="11.2" height="4.8" fill="#f4e6a0" />
<circle cx="652" cy="409.5" r="1.1" fill="#eee"/>
<rect x="648.8" y="414.3" width="12.2" height="4.8" fill="#f4e6a0" />
<rect x="682.5" y="414.3" width="11.2" height="4.8" fill="#f4e6a0" />
<circle cx="652" cy="416.7" r="1.1" fill="#eee"/>
<rect x="648.8" y="421.5" width="12.2" height="4.8" fill="#f4e6a0" />
<rect x="682.5" y="421.5" width="11.2" height="4.8" fill="#f4e6a0" />
<circle cx="652" cy="423.9" r="1.1" fill="#eee"/>
<rect x="620.7" y="439.4" width="17.4" height="7.3" rx="1.5" fill="#dfe6ee" fill-opacity="0.35" stroke="#eef2f5" stroke-width="1.4"/>
<rect x="621.8" y="440.6" width="6.5" height="5.1" fill="#f2e290" />
<rect x="630.5" y="440.6" width="6.5" height="5.1" fill="#f2e290" />
<rect x="627.5" y="441.4" width="3.8" height="3.5" fill="#b9813a" />
<rect x="646.7" y="439.4" width="18.6" height="9.8" rx="1.5" fill="#dfe6ee" fill-opacity="0.35" stroke="#eef2f5" stroke-width="1.4"/>
<rect x="647.8" y="440.6" width="7.0" height="7.6" fill="#f2e290" />
<rect x="657.2" y="440.6" width="7.0" height="7.6" fill="#f2e290" />
<rect x="654.0" y="442.1" width="4.0" height="4.5" fill="#1c1c1e" />
<rect x="674.5" y="439.4" width="17.4" height="9.8" rx="1.5" fill="#dfe6ee" fill-opacity="0.35" stroke="#eef2f5" stroke-width="1.4"/>
<rect x="675.5" y="440.6" width="6.5" height="7.6" fill="#f2e290" />
<rect x="684.2" y="440.6" width="6.5" height="7.6" fill="#f2e290" />
<rect x="681.2" y="442.1" width="3.8" height="4.5" fill="#1c1c1e" />
<rect x="661.0" y="452.5" width="21.5" height="28.8" fill="#4b4b4e" />
<rect x="648.8" y="453.7" width="12.2" height="4.8" fill="#f4e6a0" />
<rect x="682.5" y="453.7" width="11.2" height="4.8" fill="#f4e6a0" />
<circle cx="652" cy="456.1" r="1.1" fill="#eee"/>
<rect x="648.8" y="460.9" width="12.2" height="4.8" fill="#f4e6a0" />
<rect x="682.5" y="460.9" width="11.2" height="4.8" fill="#f4e6a0" />
<circle cx="652" cy="463.3" r="1.1" fill="#eee"/>
<rect x="648.8" y="468.1" width="12.2" height="4.8" fill="#f4e6a0" />
<rect x="682.5" y="468.1" width="11.2" height="4.8" fill="#f4e6a0" />
<circle cx="652" cy="470.5" r="1.1" fill="#eee"/>
<rect x="648.8" y="475.3" width="12.2" height="4.8" fill="#f4e6a0" />
<rect x="682.5" y="475.3" width="11.2" height="4.8" fill="#f4e6a0" />
<circle cx="652" cy="477.7" r="1.1" fill="#eee"/>
<rect x="447.5" y="519.7" width="65.0" height="16.0" fill="none" stroke="#e8eef6" stroke-width="1.1"/>
<rect x="449.0" y="521.5" width="6.4" height="12.5" fill="#f6f0d8" />
<rect x="450.5" y="524.0" width="3.5" height="7.0" fill="#111" />
<rect x="456.9" y="521.5" width="6.4" height="12.5" fill="#f6f0d8" />
<rect x="458.4" y="524.0" width="3.5" height="7.0" fill="#111" />
<rect x="464.8" y="521.5" width="6.4" height="12.5" fill="#f6f0d8" />
<rect x="466.3" y="524.0" width="3.5" height="7.0" fill="#2a2a2a" />
<rect x="472.7" y="521.5" width="6.4" height="12.5" fill="#f6f0d8" />
<rect x="474.2" y="524.0" width="3.5" height="7.0" fill="#c08a3a" />
<rect x="480.6" y="521.5" width="6.4" height="12.5" fill="#f6f0d8" />
<rect x="482.1" y="524.0" width="3.5" height="7.0" fill="#111" />
<rect x="488.5" y="521.5" width="6.4" height="12.5" fill="#f6f0d8" />
<rect x="490.0" y="524.0" width="3.5" height="7.0" fill="#111" />
<rect x="496.4" y="521.5" width="6.4" height="12.5" fill="#f6f0d8" />
<rect x="497.9" y="524.0" width="3.5" height="7.0" fill="#111" />
<rect x="504.3" y="521.5" width="6.4" height="12.5" fill="#f6f0d8" />
<rect x="505.8" y="524.0" width="3.5" height="7.0" fill="#111" />
<rect x="593.5" y="508.0" width="8.5" height="28.0" fill="none" stroke="#e8eef6" stroke-width="1"/>
<rect x="595.0" y="515.0" width="5.5" height="15.0" fill="#f6f0d8" />
<rect x="596.0" y="519.0" width="3.5" height="7.0" fill="#111" />
<rect x="604.0" y="508.0" width="13.0" height="28.0" fill="none" stroke="#e8eef6" stroke-width="1.2"/>
<rect x="605.5" y="510.0" width="10.0" height="9.5" fill="#f4e6a0" />
<rect x="605.5" y="524.5" width="10.0" height="10.0" fill="#f4e6a0" />
<rect x="605.5" y="519.5" width="10.0" height="5.0" fill="#8a5a2a" />
<rect x="617.0" y="519.7" width="27.0" height="16.0" fill="none" stroke="#e8eef6" stroke-width="1"/>
<rect x="618.5" y="521.5" width="7.0" height="12.5" fill="#f6f0d8" />
<rect x="620.5" y="524.5" width="3.5" height="6.5" fill="#c08a3a" />
<rect x="627.0" y="521.5" width="7.0" height="12.5" fill="#f6f0d8" />
<rect x="629.0" y="524.5" width="3.5" height="6.5" fill="#111" />
<rect x="635.5" y="521.5" width="7.0" height="12.5" fill="#f6f0d8" />
<rect x="637.5" y="524.5" width="3.5" height="6.5" fill="#111" />
<rect x="476.8" y="560.7" width="144.8" height="10.6" fill="#f4e6a0" />
<g stroke="#d8c070" stroke-width="0.6"><line x1="479.7" y1="560.7" x2="479.7" y2="571.3"/><line x1="482.6" y1="560.7" x2="482.6" y2="571.3"/><line x1="485.5" y1="560.7" x2="485.5" y2="571.3"/><line x1="488.4" y1="560.7" x2="488.4" y2="571.3"/><line x1="491.3" y1="560.7" x2="491.3" y2="571.3"/><line x1="494.2" y1="560.7" x2="494.2" y2="571.3"/><line x1="497.1" y1="560.7" x2="497.1" y2="571.3"/><line x1="500.0" y1="560.7" x2="500.0" y2="571.3"/><line x1="502.9" y1="560.7" x2="502.9" y2="571.3"/><line x1="505.8" y1="560.7" x2="505.8" y2="571.3"/><line x1="508.7" y1="560.7" x2="508.7" y2="571.3"/><line x1="511.6" y1="560.7" x2="511.6" y2="571.3"/><line x1="514.4" y1="560.7" x2="514.4" y2="571.3"/><line x1="517.3" y1="560.7" x2="517.3" y2="571.3"/><line x1="520.2" y1="560.7" x2="520.2" y2="571.3"/><line x1="523.1" y1="560.7" x2="523.1" y2="571.3"/><line x1="526.0" y1="560.7" x2="526.0" y2="571.3"/><line x1="528.9" y1="560.7" x2="528.9" y2="571.3"/><line x1="531.8" y1="560.7" x2="531.8" y2="571.3"/><line x1="534.7" y1="560.7" x2="534.7" y2="571.3"/><line x1="537.6" y1="560.7" x2="537.6" y2="571.3"/><line x1="540.5" y1="560.7" x2="540.5" y2="571.3"/><line x1="543.4" y1="560.7" x2="543.4" y2="571.3"/><line x1="546.3" y1="560.7" x2="546.3" y2="571.3"/><line x1="549.2" y1="560.7" x2="549.2" y2="571.3"/><line x1="552.1" y1="560.7" x2="552.1" y2="571.3"/><line x1="555.0" y1="560.7" x2="555.0" y2="571.3"/><line x1="557.9" y1="560.7" x2="557.9" y2="571.3"/><line x1="560.8" y1="560.7" x2="560.8" y2="571.3"/><line x1="563.7" y1="560.7" x2="563.7" y2="571.3"/><line x1="566.6" y1="560.7" x2="566.6" y2="571.3"/><line x1="569.5" y1="560.7" x2="569.5" y2="571.3"/><line x1="572.4" y1="560.7" x2="572.4" y2="571.3"/><line x1="575.3" y1="560.7" x2="575.3" y2="571.3"/><line x1="578.2" y1="560.7" x2="578.2" y2="571.3"/><line x1="581.1" y1="560.7" x2="581.1" y2="571.3"/><line x1="584.0" y1="560.7" x2="584.0" y2="571.3"/><line x1="586.8" y1="560.7" x2="586.8" y2="571.3"/><line x1="589.7" y1="560.7" x2="589.7" y2="571.3"/><line x1="592.6" y1="560.7" x2="592.6" y2="571.3"/><line x1="595.5" y1="560.7" x2="595.5" y2="571.3"/><line x1="598.4" y1="560.7" x2="598.4" y2="571.3"/><line x1="601.3" y1="560.7" x2="601.3" y2="571.3"/><line x1="604.2" y1="560.7" x2="604.2" y2="571.3"/><line x1="607.1" y1="560.7" x2="607.1" y2="571.3"/><line x1="610.0" y1="560.7" x2="610.0" y2="571.3"/><line x1="612.9" y1="560.7" x2="612.9" y2="571.3"/><line x1="615.8" y1="560.7" x2="615.8" y2="571.3"/><line x1="618.7" y1="560.7" x2="618.7" y2="571.3"/></g>
<path d="M465,590 L465,600 L633,600 L633,590" fill="none" stroke="#e8eef6" stroke-width="1.5"/>
<rect x="458.7" y="569.2" width="12.8" height="21.3" fill="#f5d94a" />
<rect x="625.9" y="569.2" width="13.9" height="21.3" fill="#f5d94a" />
<text x="475" y="558" font-family="Liberation Sans" font-size="6" fill="#e8eef6">50</text>
<text x="619" y="558" font-family="Liberation Sans" font-size="6" fill="#e8eef6">1</text>
<path d="M634,562 L627,565.5 L634,569" fill="none" stroke="#e8eef6" stroke-width="0.8"/>
<rect x="318.2" y="472.7" width="20.4" height="16.5" fill="#f6f2e0" />
<rect x="318.2" y="472.7" width="20.4" height="7.0" fill="#f5dc70" />
<rect x="311.4" y="489.2" width="36.0" height="18.5" fill="#4b4b4e" />
<rect x="309.5" y="490.2" width="2.0" height="16.5" fill="#e8eef6" />
<rect x="347.5" y="490.2" width="2.0" height="16.5" fill="#e8eef6" />
<rect x="312.4" y="508.7" width="7.8" height="15.5" fill="#f4eab8" />
<rect x="313.9" y="510.7" width="4.8" height="6.0" fill="#f5dc70" />
<rect x="325.0" y="508.7" width="7.8" height="15.5" fill="#f4eab8" />
<rect x="326.5" y="510.7" width="4.8" height="6.0" fill="#f5dc70" />
<rect x="338.6" y="508.7" width="7.8" height="15.5" fill="#f4eab8" />
<rect x="340.1" y="510.7" width="4.8" height="6.0" fill="#f5dc70" />
<circle cx="309.5" cy="510.7" r="1" fill="#e8eef6"/>
<rect x="318.2" y="539.8" width="20.4" height="16.5" fill="#f6f2e0" />
<rect x="318.2" y="539.8" width="20.4" height="7.0" fill="#f5dc70" />
<rect x="311.4" y="556.3" width="36.0" height="18.5" fill="#4b4b4e" />
<rect x="309.5" y="557.3" width="2.0" height="16.5" fill="#e8eef6" />
<rect x="347.5" y="557.3" width="2.0" height="16.5" fill="#e8eef6" />
<rect x="312.4" y="575.8" width="7.8" height="15.5" fill="#f4eab8" />
<rect x="313.9" y="577.8" width="4.8" height="6.0" fill="#f5dc70" />
<rect x="325.0" y="575.8" width="7.8" height="15.5" fill="#f4eab8" />
<rect x="326.5" y="577.8" width="4.8" height="6.0" fill="#f5dc70" />
<rect x="338.6" y="575.8" width="7.8" height="15.5" fill="#f4eab8" />
<rect x="340.1" y="577.8" width="4.8" height="6.0" fill="#f5dc70" />
<circle cx="309.5" cy="577.8" r="1" fill="#e8eef6"/>
<rect x="365.6" y="402.4" width="19.0" height="10.2" rx="1.5" fill="#dfe6ee" fill-opacity="0.35" stroke="#eef2f5" stroke-width="1.4"/>
<rect x="366.7" y="403.5" width="7.2" height="8.0" fill="#f2e290" />
<rect x="376.3" y="403.5" width="7.2" height="8.0" fill="#f2e290" />
<rect x="373.1" y="405.2" width="4.1" height="4.6" fill="#b9813a" />
<rect x="365.6" y="434.5" width="19.0" height="8.6" rx="1.5" fill="#dfe6ee" fill-opacity="0.35" stroke="#eef2f5" stroke-width="1.4"/>
<rect x="366.7" y="435.6" width="7.2" height="6.4" fill="#f2e290" />
<rect x="376.3" y="435.6" width="7.2" height="6.4" fill="#f2e290" />
<rect x="373.1" y="436.8" width="4.1" height="4.0" fill="#b9813a" />
<rect x="365.6" y="444.5" width="19.0" height="8.6" rx="1.5" fill="#dfe6ee" fill-opacity="0.35" stroke="#eef2f5" stroke-width="1.4"/>
<rect x="366.7" y="445.6" width="7.2" height="6.4" fill="#f2e290" />
<rect x="376.3" y="445.6" width="7.2" height="6.4" fill="#f2e290" />
<rect x="373.1" y="446.8" width="4.1" height="4.0" fill="#b9813a" />
<rect x="365.6" y="454.6" width="19.0" height="8.6" rx="1.5" fill="#dfe6ee" fill-opacity="0.35" stroke="#eef2f5" stroke-width="1.4"/>
<rect x="366.7" y="455.7" width="7.2" height="6.4" fill="#f2e290" />
<rect x="376.3" y="455.7" width="7.2" height="6.4" fill="#f2e290" />
<rect x="373.1" y="456.9" width="4.1" height="4.0" fill="#b9813a" />
<rect x="365.6" y="488.0" width="19.0" height="11.3" rx="1.5" fill="#dfe6ee" fill-opacity="0.35" stroke="#eef2f5" stroke-width="1.4"/>
<rect x="366.7" y="489.1" width="7.2" height="9.1" fill="#f2e290" />
<rect x="376.3" y="489.1" width="7.2" height="9.1" fill="#f2e290" />
<rect x="373.1" y="491.1" width="4.1" height="5.1" fill="#b9813a" />
<rect x="365.6" y="500.7" width="19.0" height="11.2" rx="1.5" fill="#dfe6ee" fill-opacity="0.35" stroke="#eef2f5" stroke-width="1.4"/>
<rect x="366.7" y="501.8" width="7.2" height="9.0" fill="#f2e290" />
<rect x="376.3" y="501.8" width="7.2" height="9.0" fill="#f2e290" />
<rect x="373.1" y="503.7" width="4.1" height="5.1" fill="#b9813a" />
<rect x="365.6" y="540.5" width="19.0" height="11.0" rx="1.5" fill="#dfe6ee" fill-opacity="0.35" stroke="#eef2f5" stroke-width="1.4"/>
<rect x="366.7" y="541.6" width="7.2" height="8.8" fill="#f2e290" />
<rect x="376.3" y="541.6" width="7.2" height="8.8" fill="#f2e290" />
<rect x="373.1" y="543.5" width="4.1" height="5.0" fill="#b9813a" />
<rect x="365.6" y="552.9" width="19.0" height="11.0" rx="1.5" fill="#dfe6ee" fill-opacity="0.35" stroke="#eef2f5" stroke-width="1.4"/>
<rect x="366.7" y="554.0" width="7.2" height="8.8" fill="#f2e290" />
<rect x="376.3" y="554.0" width="7.2" height="8.8" fill="#f2e290" />
<rect x="373.1" y="555.9" width="4.1" height="5.0" fill="#b9813a" />
<rect x="365.6" y="565.3" width="19.0" height="11.0" rx="1.5" fill="#dfe6ee" fill-opacity="0.35" stroke="#eef2f5" stroke-width="1.4"/>
<rect x="366.7" y="566.4" width="7.2" height="8.8" fill="#f2e290" />
<rect x="376.3" y="566.4" width="7.2" height="8.8" fill="#f2e290" />
<rect x="373.1" y="568.3" width="4.1" height="5.0" fill="#b9813a" />
<rect x="365.6" y="577.7" width="19.0" height="11.0" rx="1.5" fill="#dfe6ee" fill-opacity="0.35" stroke="#eef2f5" stroke-width="1.4"/>
<rect x="366.7" y="578.8" width="7.2" height="8.8" fill="#f2e290" />
<rect x="376.3" y="578.8" width="7.2" height="8.8" fill="#f2e290" />
<rect x="373.1" y="580.7" width="4.1" height="5.0" fill="#b9813a" />
<rect x="261" y="647" width="32" height="71" rx="6" fill="#1a2a48"/>
<rect x="263.5" y="650" width="27" height="65" rx="13.5" fill="#e6e2dc" stroke="#f6f4f0" stroke-width="2"/>
<rect x="272.5" y="642.5" width="10.0" height="6.2" fill="#f6eed0" />
<rect x="272.5" y="716.2" width="10.0" height="6.2" fill="#f6eed0" />
<rect x="295.7" y="659.5" width="8.6" height="18.6" rx="1.5" fill="#dfe6ee" fill-opacity="0.35" stroke="#eef2f5" stroke-width="1.4"/>
<rect x="296.8" y="660.5" width="6.4" height="7.0" fill="#f2e290" />
<rect x="296.8" y="670.0" width="6.4" height="7.0" fill="#f2e290" />
<rect x="298.0" y="666.8" width="4.0" height="4.0" fill="#b9813a" />
<rect x="295.7" y="685.7" width="8.6" height="14.8" rx="1.5" fill="#dfe6ee" fill-opacity="0.35" stroke="#eef2f5" stroke-width="1.4"/>
<rect x="296.8" y="686.8" width="6.4" height="5.4" fill="#f2e290" />
<rect x="296.8" y="694.1" width="6.4" height="5.4" fill="#f2e290" />
<rect x="298.0" y="691.5" width="4.0" height="3.2" fill="#b9813a" />
<rect x="310.7" y="685.7" width="7.3" height="14.8" rx="1.5" fill="#dfe6ee" fill-opacity="0.35" stroke="#eef2f5" stroke-width="1.4"/>
<rect x="311.8" y="686.8" width="5.1" height="5.4" fill="#f2e290" />
<rect x="311.8" y="694.1" width="5.1" height="5.4" fill="#f2e290" />
<rect x="312.6" y="691.5" width="3.5" height="3.2" fill="#1c1c1e" />
<rect x="295.7" y="709.5" width="8.6" height="16.1" rx="1.5" fill="#dfe6ee" fill-opacity="0.35" stroke="#eef2f5" stroke-width="1.4"/>
<rect x="296.8" y="710.5" width="6.4" height="5.9" fill="#f2e290" />
<rect x="296.8" y="718.5" width="6.4" height="5.9" fill="#f2e290" />
<rect x="298.0" y="715.8" width="4.0" height="3.5" fill="#b9813a" />
<rect x="310.7" y="709.5" width="7.3" height="16.1" rx="1.5" fill="#dfe6ee" fill-opacity="0.35" stroke="#eef2f5" stroke-width="1.4"/>
<rect x="311.8" y="710.5" width="5.1" height="5.9" fill="#f2e290" />
<rect x="311.8" y="718.5" width="5.1" height="5.9" fill="#f2e290" />
<rect x="312.6" y="715.8" width="3.5" height="3.5" fill="#b9813a" />
<rect x="342.5" y="631.5" width="27.5" height="17.0" fill="none" stroke="#e8eef6" stroke-width="1"/>
<rect x="344.0" y="633.0" width="7.2" height="14.0" fill="#f6f0d8" />
<rect x="345.8" y="636.5" width="3.7" height="6.5" fill="#c08a3a" />
<rect x="352.7" y="633.0" width="7.2" height="14.0" fill="#f6f0d8" />
<rect x="354.5" y="636.5" width="3.7" height="6.5" fill="#111" />
<rect x="361.4" y="633.0" width="7.2" height="14.0" fill="#f6f0d8" />
<rect x="363.2" y="636.5" width="3.7" height="6.5" fill="#111" />
<rect x="340.0" y="660.0" width="36.2" height="10.0" fill="#f3de7e" />
<g stroke="#c9a840" stroke-width="0.6"><line x1="343.0" y1="660" x2="343.0" y2="670"/><line x1="346.0" y1="660" x2="346.0" y2="670"/><line x1="349.1" y1="660" x2="349.1" y2="670"/><line x1="352.1" y1="660" x2="352.1" y2="670"/><line x1="355.1" y1="660" x2="355.1" y2="670"/><line x1="358.1" y1="660" x2="358.1" y2="670"/><line x1="361.1" y1="660" x2="361.1" y2="670"/><line x1="364.2" y1="660" x2="364.2" y2="670"/><line x1="367.2" y1="660" x2="367.2" y2="670"/><line x1="370.2" y1="660" x2="370.2" y2="670"/><line x1="373.2" y1="660" x2="373.2" y2="670"/></g>
<rect x="340.0" y="710.0" width="36.2" height="8.8" fill="#f3de7e" />
<g stroke="#c9a840" stroke-width="0.6"><line x1="343.0" y1="710" x2="343.0" y2="718.75"/><line x1="346.0" y1="710" x2="346.0" y2="718.75"/><line x1="349.1" y1="710" x2="349.1" y2="718.75"/><line x1="352.1" y1="710" x2="352.1" y2="718.75"/><line x1="355.1" y1="710" x2="355.1" y2="718.75"/><line x1="358.1" y1="710" x2="358.1" y2="718.75"/><line x1="361.1" y1="710" x2="361.1" y2="718.75"/><line x1="364.2" y1="710" x2="364.2" y2="718.75"/><line x1="367.2" y1="710" x2="367.2" y2="718.75"/><line x1="370.2" y1="710" x2="370.2" y2="718.75"/><line x1="373.2" y1="710" x2="373.2" y2="718.75"/></g>
<rect x="328.8" y="672.5" width="7.5" height="33.8" fill="#f3de7e" />
<g stroke="#c9a840" stroke-width="0.6"><line x1="328.75" y1="675.3" x2="336.25" y2="675.3"/><line x1="328.75" y1="678.1" x2="336.25" y2="678.1"/><line x1="328.75" y1="680.9" x2="336.25" y2="680.9"/><line x1="328.75" y1="683.8" x2="336.25" y2="683.8"/><line x1="328.75" y1="686.6" x2="336.25" y2="686.6"/><line x1="328.75" y1="689.4" x2="336.25" y2="689.4"/><line x1="328.75" y1="692.2" x2="336.25" y2="692.2"/><line x1="328.75" y1="695.0" x2="336.25" y2="695.0"/><line x1="328.75" y1="697.8" x2="336.25" y2="697.8"/><line x1="328.75" y1="700.6" x2="336.25" y2="700.6"/><line x1="328.75" y1="703.4" x2="336.25" y2="703.4"/></g>
<rect x="378.8" y="672.5" width="8.8" height="33.8" fill="#f3de7e" />
<g stroke="#c9a840" stroke-width="0.6"><line x1="378.75" y1="675.3" x2="387.5" y2="675.3"/><line x1="378.75" y1="678.1" x2="387.5" y2="678.1"/><line x1="378.75" y1="680.9" x2="387.5" y2="680.9"/><line x1="378.75" y1="683.8" x2="387.5" y2="683.8"/><line x1="378.75" y1="686.6" x2="387.5" y2="686.6"/><line x1="378.75" y1="689.4" x2="387.5" y2="689.4"/><line x1="378.75" y1="692.2" x2="387.5" y2="692.2"/><line x1="378.75" y1="695.0" x2="387.5" y2="695.0"/><line x1="378.75" y1="697.8" x2="387.5" y2="697.8"/><line x1="378.75" y1="700.6" x2="387.5" y2="700.6"/><line x1="378.75" y1="703.4" x2="387.5" y2="703.4"/></g>
<rect x="336.2" y="670.0" width="42.5" height="40.0" fill="#8e8e90" />
<circle cx="334" cy="668" r="1" fill="#eee"/>
<rect x="400.5" y="661.5" width="18.0" height="49.5" fill="none" stroke="#e8eef6" stroke-width="1"/>
<rect x="402.0" y="663.0" width="15.0" height="6.8" fill="#f6f0d8" />
<rect x="406.0" y="664.5" width="7.0" height="3.8" fill="#111" />
<rect x="402.0" y="671.0" width="15.0" height="6.8" fill="#f6f0d8" />
<rect x="406.0" y="672.5" width="7.0" height="3.8" fill="#c08a3a" />
<rect x="402.0" y="679.0" width="15.0" height="6.8" fill="#f6f0d8" />
<rect x="406.0" y="680.5" width="7.0" height="3.8" fill="#111" />
<rect x="402.0" y="687.0" width="15.0" height="6.8" fill="#f6f0d8" />
<rect x="406.0" y="688.5" width="7.0" height="3.8" fill="#111" />
<rect x="402.0" y="695.0" width="15.0" height="6.8" fill="#f6f0d8" />
<rect x="406.0" y="696.5" width="7.0" height="3.8" fill="#111" />
<rect x="402.0" y="703.0" width="15.0" height="6.8" fill="#f6f0d8" />
<rect x="406.0" y="704.5" width="7.0" height="3.8" fill="#111" />
<rect x="371.9" y="730.7" width="17.4" height="7.3" rx="1.5" fill="#dfe6ee" fill-opacity="0.35" stroke="#eef2f5" stroke-width="1.4"/>
<rect x="373.1" y="731.8" width="6.4" height="5.2" fill="#f2e290" />
<rect x="381.8" y="731.8" width="6.4" height="5.2" fill="#f2e290" />
<rect x="378.8" y="732.6" width="3.8" height="3.5" fill="#b9813a" />
<rect x="760.7" y="345.7" width="28.6" height="14.8" rx="1.5" fill="#dfe6ee" fill-opacity="0.35" stroke="#eef2f5" stroke-width="1.4"/>
<rect x="761.8" y="346.8" width="11.4" height="12.6" fill="#f2e290" />
<rect x="776.8" y="346.8" width="11.4" height="12.6" fill="#f2e290" />
<rect x="772.0" y="349.9" width="6.0" height="6.5" fill="#b9813a" />
<rect x="820.7" y="345.7" width="27.4" height="14.8" rx="1.5" fill="#dfe6ee" fill-opacity="0.35" stroke="#eef2f5" stroke-width="1.4"/>
<rect x="821.8" y="346.8" width="10.9" height="12.6" fill="#f2e290" />
<rect x="836.1" y="346.8" width="10.9" height="12.6" fill="#f2e290" />
<rect x="831.5" y="349.9" width="5.8" height="6.5" fill="#b9813a" />
<rect x="731.8" y="369.3" width="17.7" height="41.4" fill="none" stroke="#e8eef6" stroke-width="1.1"/>
<rect x="733.5" y="371.0" width="14.5" height="8.5" fill="#f4e6a0" />
<rect x="733.5" y="401.0" width="14.5" height="8.0" fill="#f4e6a0" />
<rect x="733.0" y="379.5" width="15.5" height="18.5" fill="#1c1c1e" />
<rect x="733.5" y="398.0" width="14.5" height="2.5" fill="#f0f0f0" />
<text x="738" y="391" font-family="Liberation Sans" font-size="5" fill="#ddd">✓</text>
<rect x="754.5" y="366.9" width="38.6" height="33.6" fill="none" stroke="#e8eef6" stroke-width="1.5"/>
<rect x="755.8" y="368.2" width="36.0" height="31.0" fill="#f3e070" />
<path d="M766.2,368.8 L792.0,368.8 L792.0,389.8 L785.0,396.8 L766.2,396.8 L759.2,389.8 L759.2,375.8 Z" fill="#464646"/>
<rect x="760.2" y="368.8" width="3.0" height="26.0" fill="#2e2e2e" />
<rect x="817.0" y="366.9" width="33.6" height="38.6" fill="none" stroke="#e8eef6" stroke-width="1.5"/>
<rect x="818.2" y="368.2" width="31.0" height="36.0" fill="#f3e070" />
<path d="M828.8,368.8 L849.5,368.8 L849.5,394.8 L842.5,401.8 L828.8,401.8 L821.8,394.8 L821.8,375.8 Z" fill="#464646"/>
<rect x="822.8" y="368.8" width="3.0" height="31.0" fill="#2e2e2e" />
<rect x="868.0" y="378.5" width="17.5" height="16.5" fill="none" stroke="#e8eef6" stroke-width="1"/>
<rect x="870.0" y="372.0" width="4.0" height="7.0" fill="#f4e6a0" />
<rect x="879.0" y="372.0" width="4.0" height="7.0" fill="#f4e6a0" />
<rect x="869.5" y="387.0" width="4.5" height="7.0" fill="#f4e6a0" />
<rect x="875.0" y="387.0" width="4.0" height="7.0" fill="#f4e6a0" />
<rect x="880.0" y="387.0" width="4.5" height="7.0" fill="#f4e6a0" />
<circle cx="866.5" cy="391" r="1" fill="#eee"/>
<rect x="899.5" y="373.2" width="27.4" height="13.6" rx="1.5" fill="#dfe6ee" fill-opacity="0.35" stroke="#eef2f5" stroke-width="1.4"/>
<rect x="900.5" y="374.3" width="10.9" height="11.4" fill="#f2e290" />
<rect x="914.9" y="374.3" width="10.9" height="11.4" fill="#f2e290" />
<rect x="910.2" y="377.0" width="5.8" height="6.0" fill="#b9813a" />
<rect x="913.0" y="390.5" width="14.0" height="37.8" fill="none" stroke="#e8eef6" stroke-width="1.1"/>
<rect x="914.5" y="392.0" width="11.0" height="11.0" fill="#f4e6a0" />
<rect x="914.5" y="416.0" width="11.0" height="11.0" fill="#f4e6a0" />
<path d="M915,404 L925,404 L920,411 Z M915,411.5 L925,411.5" fill="none" stroke="#e8eef6" stroke-width="1"/>
<rect x="737.0" y="414.4" width="16.1" height="7.3" rx="1.5" fill="#dfe6ee" fill-opacity="0.35" stroke="#eef2f5" stroke-width="1.4"/>
<rect x="738.0" y="415.6" width="5.9" height="5.1" fill="#f2e290" />
<rect x="746.0" y="415.6" width="5.9" height="5.1" fill="#f2e290" />
<rect x="743.2" y="416.4" width="3.5" height="3.5" fill="#b9813a" />
<rect x="769.0" y="408.8" width="9.0" height="16.2" fill="#4b4b4e" />
<rect x="762.5" y="409.5" width="6.5" height="4.5" fill="#f4e6a0" />
<rect x="778.0" y="409.5" width="7.0" height="4.5" fill="#f4e6a0" />
<rect x="762.5" y="414.5" width="6.5" height="4.5" fill="#f4e6a0" />
<rect x="778.0" y="414.5" width="7.0" height="4.5" fill="#f4e6a0" />
<rect x="762.5" y="419.5" width="6.5" height="4.5" fill="#f4e6a0" />
<rect x="778.0" y="419.5" width="7.0" height="4.5" fill="#f4e6a0" />
<rect x="798.2" y="409.4" width="8.6" height="14.8" rx="1.5" fill="#dfe6ee" fill-opacity="0.35" stroke="#eef2f5" stroke-width="1.4"/>
<rect x="799.3" y="410.6" width="6.4" height="5.3" fill="#f2e290" />
<rect x="799.3" y="417.9" width="6.4" height="5.3" fill="#f2e290" />
<rect x="800.5" y="415.2" width="4.0" height="3.2" fill="#1c1c1e" />
<rect x="811.7" y="420.5" width="44.1" height="15.2" fill="none" stroke="#e8eef6" stroke-width="1.1"/>
<rect x="813.0" y="422.0" width="8.0" height="12.2" fill="#f4e6a0" />
<rect x="846.5" y="422.0" width="8.0" height="12.2" fill="#f4e6a0" />
<rect x="822.0" y="421.5" width="23.5" height="13.2" fill="#1c1c1e" />
<text x="828" y="430.1" font-family="Liberation Sans" font-size="5" fill="#ccc">✓✓</text>
<rect x="811.7" y="436.8" width="44.1" height="17.8" fill="none" stroke="#e8eef6" stroke-width="1.1"/>
<rect x="813.0" y="438.2" width="8.0" height="14.8" fill="#f4e6a0" />
<rect x="846.5" y="438.2" width="8.0" height="14.8" fill="#f4e6a0" />
<rect x="822.0" y="437.8" width="23.5" height="15.8" fill="#1c1c1e" />
<text x="828" y="447.6" font-family="Liberation Sans" font-size="5" fill="#ccc">✓✓</text>
<rect x="811.7" y="455.5" width="44.1" height="17.8" fill="none" stroke="#e8eef6" stroke-width="1.1"/>
<rect x="813.0" y="457.0" width="8.0" height="14.8" fill="#f4e6a0" />
<rect x="846.5" y="457.0" width="8.0" height="14.8" fill="#f4e6a0" />
<rect x="822.0" y="456.5" width="23.5" height="15.8" fill="#1c1c1e" />
<text x="828" y="466.4" font-family="Liberation Sans" font-size="5" fill="#ccc">✓✓</text>
<rect x="751.8" y="435.5" width="27.8" height="27.8" fill="none" stroke="#e8eef6" stroke-width="1.1"/>
<rect x="753.5" y="437.5" width="10.5" height="10.5" fill="#f4e6a0" />
<rect x="767.0" y="437.5" width="10.5" height="10.5" fill="#f4e6a0" />
<rect x="753.5" y="451.0" width="10.5" height="10.5" fill="#f4e6a0" />
<rect x="767.0" y="451.0" width="10.5" height="10.5" fill="#f4e6a0" />
<rect x="763.0" y="440.0" width="5.0" height="5.0" fill="#8a6a3a" />
<rect x="763.0" y="454.0" width="5.0" height="5.0" fill="#8a6a3a" />
<rect x="785.0" y="432.5" width="9.0" height="7.5" fill="#f5d94a" />
<rect x="785.0" y="455.0" width="9.0" height="7.5" fill="#f5d94a" />
<rect x="784.2" y="440.0" width="10.8" height="15.0" fill="none" stroke="#e8eef6" stroke-width="1.4"/>
<rect x="798.2" y="430.7" width="8.6" height="17.4" rx="1.5" fill="#dfe6ee" fill-opacity="0.35" stroke="#eef2f5" stroke-width="1.4"/>
<rect x="799.3" y="431.8" width="6.4" height="6.4" fill="#f2e290" />
<rect x="799.3" y="440.5" width="6.4" height="6.4" fill="#f2e290" />
<rect x="800.5" y="437.5" width="4.0" height="3.8" fill="#b9813a" />
<rect x="859.5" y="410.7" width="8.6" height="17.4" rx="1.5" fill="#dfe6ee" fill-opacity="0.35" stroke="#eef2f5" stroke-width="1.4"/>
<rect x="860.5" y="411.8" width="6.4" height="6.4" fill="#f2e290" />
<rect x="860.5" y="420.5" width="6.4" height="6.4" fill="#f2e290" />
<rect x="861.8" y="417.5" width="4.0" height="3.8" fill="#b9813a" />
<rect x="870.7" y="401.9" width="13.6" height="28.6" rx="1.5" fill="#dfe6ee" fill-opacity="0.35" stroke="#eef2f5" stroke-width="1.4"/>
<rect x="871.8" y="403.1" width="11.4" height="11.4" fill="#f2e290" />
<rect x="871.8" y="418.1" width="11.4" height="11.4" fill="#f2e290" />
<rect x="874.5" y="413.2" width="6.0" height="6.0" fill="#b9813a" />
<rect x="870.7" y="435.7" width="13.6" height="28.6" rx="1.5" fill="#dfe6ee" fill-opacity="0.35" stroke="#eef2f5" stroke-width="1.4"/>
<rect x="871.8" y="436.8" width="11.4" height="11.4" fill="#f2e290" />
<rect x="871.8" y="451.8" width="11.4" height="11.4" fill="#f2e290" />
<rect x="874.5" y="447.0" width="6.0" height="6.0" fill="#b9813a" />
<rect x="889.5" y="398.2" width="16.1" height="6.1" rx="1.5" fill="#dfe6ee" fill-opacity="0.35" stroke="#eef2f5" stroke-width="1.4"/>
<rect x="890.5" y="399.3" width="5.9" height="3.9" fill="#f2e290" />
<rect x="898.5" y="399.3" width="5.9" height="3.9" fill="#f2e290" />
<rect x="895.8" y="399.8" width="3.5" height="3.0" fill="#1c1c1e" />
<rect x="889.5" y="406.9" width="7.3" height="17.4" rx="1.5" fill="#dfe6ee" fill-opacity="0.35" stroke="#eef2f5" stroke-width="1.4"/>
<rect x="890.5" y="408.1" width="5.2" height="6.4" fill="#f2e290" />
<rect x="890.5" y="416.8" width="5.2" height="6.4" fill="#f2e290" />
<rect x="891.4" y="413.8" width="3.5" height="3.8" fill="#1c1c1e" />
<rect x="900.7" y="406.9" width="7.3" height="17.4" rx="1.5" fill="#dfe6ee" fill-opacity="0.35" stroke="#eef2f5" stroke-width="1.4"/>
<rect x="901.8" y="408.1" width="5.2" height="6.4" fill="#f2e290" />
<rect x="901.8" y="416.8" width="5.2" height="6.4" fill="#f2e290" />
<rect x="902.6" y="413.8" width="3.5" height="3.8" fill="#b9813a" />
<rect x="892.5" y="435.5" width="14.5" height="36.5" fill="none" stroke="#e8eef6" stroke-width="1.1"/>
<rect x="894.0" y="437.0" width="11.5" height="11.0" fill="#f4e6a0" />
<rect x="894.0" y="459.0" width="11.5" height="11.5" fill="#f4e6a0" />
<path d="M894.5,449 L905,449 L899.75,456 Z M894.5,457 L905,457" fill="none" stroke="#e8eef6" stroke-width="1"/>
<rect x="909.5" y="454.4" width="8.6" height="16.1" rx="1.5" fill="#dfe6ee" fill-opacity="0.35" stroke="#eef2f5" stroke-width="1.4"/>
<rect x="910.5" y="455.6" width="6.4" height="5.9" fill="#f2e290" />
<rect x="910.5" y="463.6" width="6.4" height="5.9" fill="#f2e290" />
<rect x="911.8" y="460.8" width="4.0" height="3.5" fill="#b9813a" />
<line x1="67" y1="164.5" x2="1017" y2="164.5" stroke="#9a5a66" stroke-width="1.3"/>
<line x1="67" y1="164.5" x2="67" y2="190" stroke="#a06470" stroke-width="1.2"/>
<line x1="111.5" y1="164.5" x2="111.5" y2="226" stroke="#a06470" stroke-width="1.2"/>
<line x1="972" y1="164.5" x2="972" y2="190" stroke="#a06470" stroke-width="1.2"/>
<line x1="1017" y1="164.5" x2="1017" y2="202" stroke="#a06470" stroke-width="1.2"/>
<line x1="89" y1="164.5" x2="89" y2="202" stroke="#a23a50" stroke-width="1.6"/>
<line x1="994" y1="164.5" x2="994" y2="202" stroke="#a23a50" stroke-width="1.6"/>
<path d="M74,161.0 L67,164.5 L74,168.0" fill="none" stroke="#c83444" stroke-width="1.2"/>
<path d="M82,161.0 L89,164.5 L82,168.0" fill="none" stroke="#c83444" stroke-width="1.2"/>
<path d="M979,161.0 L972,164.5 L979,168.0" fill="none" stroke="#c83444" stroke-width="1.2"/>
<path d="M987,161.0 L994,164.5 L987,168.0" fill="none" stroke="#c83444" stroke-width="1.2"/>
<path d="M96,161.0 L89,164.5 L96,168.0" fill="none" stroke="#c83444" stroke-width="1.2"/>
<path d="M104.5,161.0 L111.5,164.5 L104.5,168.0" fill="none" stroke="#c83444" stroke-width="1.2"/>
<path d="M1001,161.0 L994,164.5 L1001,168.0" fill="none" stroke="#c83444" stroke-width="1.2"/>
<path d="M1009.5,161.0 L1016.5,164.5 L1009.5,168.0" fill="none" stroke="#c83444" stroke-width="1.2"/>
<path d="M119.5,161.0 L111.5,164.5 L119.5,168.0" fill="none" stroke="#c83444" stroke-width="1.2"/>
<path d="M964,161.0 L972,164.5 L964,168.0" fill="none" stroke="#c83444" stroke-width="1.2"/>
<rect x="527" y="156" width="72" height="13" fill="#fff"/>
<text class="dm" x="528" y="168.5" font-size="14" textLength="47" lengthAdjust="spacingAndGlyphs">148.90</text>
<text class="ds" x="577" y="168.3" font-size="11.5" textLength="20" lengthAdjust="spacingAndGlyphs">mm</text>
<text class="ds" x="65" y="161.5" font-size="12.5" style="font-weight:normal" fill="#a02434" stroke="#a02434" stroke-width="0.35" textLength="50" lengthAdjust="spacingAndGlyphs">1.04.0</text>
<text class="ds" x="971" y="161.5" font-size="12.5" style="font-weight:normal" fill="#a02434" stroke="#a02434" stroke-width="0.35" textLength="49" lengthAdjust="spacingAndGlyphs">1.04.0</text>
<line x1="36" y1="175.5" x2="36" y2="538.5" stroke="#b06a7a" stroke-width="1.6"/>
<line x1="36" y1="538.5" x2="36" y2="892.5" stroke="#8c3c3c" stroke-width="2.0"/>
<line x1="33" y1="175.5" x2="89" y2="175.5" stroke="#a05a66" stroke-width="1.3"/>
<line x1="36" y1="202.5" x2="66" y2="202.5" stroke="#8f4a55" stroke-width="1.5"/>
<path d="M32.5,195.5 L36,202.5 L39.5,195.5" fill="none" stroke="#c83444" stroke-width="1.3"/>
<path d="M32.5,209.5 L36,202.5 L39.5,209.5" fill="none" stroke="#c83444" stroke-width="1.3"/>
<line x1="36" y1="292" x2="64" y2="292" stroke="#8f4a55" stroke-width="1.5"/>
<path d="M32.5,285 L36,292 L39.5,285" fill="none" stroke="#c83444" stroke-width="1.3"/>
<path d="M32.5,299 L36,292 L39.5,299" fill="none" stroke="#c83444" stroke-width="1.3"/>
<line x1="36" y1="398" x2="64" y2="398" stroke="#8f4a55" stroke-width="1.5"/>
<path d="M32.5,391 L36,398 L39.5,391" fill="none" stroke="#c83444" stroke-width="1.3"/>
<path d="M32.5,405 L36,398 L39.5,405" fill="none" stroke="#c83444" stroke-width="1.3"/>
<line x1="36" y1="474" x2="64" y2="474" stroke="#8f4a55" stroke-width="1.5"/>
<path d="M32.5,467 L36,474 L39.5,467" fill="none" stroke="#c83444" stroke-width="1.3"/>
<path d="M32.5,481 L36,474 L39.5,481" fill="none" stroke="#c83444" stroke-width="1.3"/>
<line x1="36" y1="538.5" x2="66" y2="538.5" stroke="#8f4a55" stroke-width="1.5"/>
<path d="M32.5,531.5 L36,538.5 L39.5,531.5" fill="none" stroke="#c83444" stroke-width="1.3"/>
<path d="M32.5,545.5 L36,538.5 L39.5,545.5" fill="none" stroke="#c83444" stroke-width="1.3"/>
<line x1="36" y1="865.5" x2="66" y2="865.5" stroke="#8f4a55" stroke-width="1.5"/>
<path d="M32.5,858.5 L36,865.5 L39.5,858.5" fill="none" stroke="#c83444" stroke-width="1.3"/>
<path d="M32.5,872.5 L36,865.5 L39.5,872.5" fill="none" stroke="#c83444" stroke-width="1.3"/>
<path d="M32.5,182.5 L36,175.5 L39.5,182.5" fill="none" stroke="#c83444" stroke-width="1.3"/>
<line x1="36" y1="892.5" x2="89" y2="892.5" stroke="#a03040" stroke-width="2.0"/>
<path d="M32.5,885.5 L36,892.5 L39.5,885.5" fill="none" stroke="#c83444" stroke-width="1.3"/>
<rect x="19" y="180.2" width="36" height="14" fill="#fff"/>
<text class="ds" x="20" y="192.2" font-size="13.5" style="font-weight:normal" stroke="#9a1e2e" stroke-width="0.45" textLength="34" lengthAdjust="spacingAndGlyphs">4.66</text>
<rect x="19" y="242" width="42" height="14" fill="#fff"/>
<text class="dm" x="20" y="254" font-size="13.5" textLength="40" lengthAdjust="spacingAndGlyphs">15.59</text>
<rect x="19" y="341" width="42" height="14" fill="#fff"/>
<text class="dm" x="20" y="353" font-size="13.5" textLength="40" lengthAdjust="spacingAndGlyphs">18.37</text>
<rect x="19" y="433.3" width="38" height="14" fill="#fff"/>
<text class="dm" x="20" y="445.3" font-size="13.5" textLength="36" lengthAdjust="spacingAndGlyphs">13.11</text>
<rect x="20.5" y="498.3" width="39" height="14" fill="#fff"/>
<text class="dm" x="21.5" y="510.3" font-size="13.5" textLength="37" lengthAdjust="spacingAndGlyphs">11.14</text>
<rect x="14.5" y="684.3" width="43.5" height="14" fill="#fff"/>
<text class="ds" x="15.5" y="696.3" font-size="13.5" style="font-weight:normal" stroke="#9a1e2e" stroke-width="0.45" textLength="41.5" lengthAdjust="spacingAndGlyphs">56.75</text>
<rect x="19" y="872" width="36" height="14" fill="#fff"/>
<text class="ds" x="20" y="884" font-size="13.5" style="font-weight:normal" stroke="#9a1e2e" stroke-width="0.45" textLength="34" lengthAdjust="spacingAndGlyphs">4.66</text>
<line x1="89" y1="904.5" x2="994" y2="904.5" stroke="#a06072" stroke-width="1.5"/>
<line x1="67" y1="925.3" x2="1017" y2="925.3" stroke="#98586a" stroke-width="1.3"/>
<line x1="89" y1="878" x2="89" y2="905" stroke="#a04a5a" stroke-width="1.4"/>
<line x1="67" y1="843" x2="67" y2="925" stroke="#a06470" stroke-width="1.2"/>
<line x1="994" y1="875" x2="994" y2="905" stroke="#a83448" stroke-width="1.6"/>
<line x1="1017" y1="844" x2="1017" y2="925" stroke="#b02c40" stroke-width="1.8"/>
<path d="M96,901.0 L89,904.5 L96,908.0" fill="none" stroke="#c83444" stroke-width="1.2"/>
<path d="M987,901.0 L994,904.5 L987,908.0" fill="none" stroke="#c83444" stroke-width="1.2"/>
<path d="M74,921.8 L67,925.3 L74,928.8" fill="none" stroke="#c83444" stroke-width="1.2"/>
<path d="M1010,921.8 L1017,925.3 L1010,928.8" fill="none" stroke="#c83444" stroke-width="1.2"/>
<rect x="524" y="897" width="71" height="12" fill="#fff"/>
<text class="dm" x="525" y="908.5" font-size="14" textLength="47" lengthAdjust="spacingAndGlyphs">156.90</text>
<text class="ds" x="574" y="908.5" font-size="11.5" textLength="18.5" lengthAdjust="spacingAndGlyphs">mm</text>
<rect x="524" y="916" width="71" height="12" fill="#fff"/>
<text class="dm" x="526" y="928" font-size="14" textLength="47" lengthAdjust="spacingAndGlyphs">164.90</text>
<text class="ds" x="575" y="928" font-size="11.5" textLength="18.5" lengthAdjust="spacingAndGlyphs">mm</text>
<line x1="1034" y1="202.5" x2="1034" y2="865.5" stroke="#a8747f" stroke-width="1.3"/>
<line x1="1062" y1="176" x2="1062" y2="892.5" stroke="#a8747f" stroke-width="1.3"/>
<line x1="1017" y1="202.5" x2="1034" y2="202.5" stroke="#a06470" stroke-width="1.2"/>
<line x1="1000" y1="176" x2="1062" y2="176" stroke="#a06470" stroke-width="1.2"/>
<line x1="1005" y1="865.5" x2="1034" y2="865.5" stroke="#a06470" stroke-width="1.2"/>
<line x1="997" y1="892.5" x2="1062" y2="892.5" stroke="#a83448" stroke-width="1.8"/>
<path d="M1030.5,209.5 L1034,202.5 L1037.5,209.5" fill="none" stroke="#c83444" stroke-width="1.2"/>
<path d="M1030.5,858.5 L1034,865.5 L1037.5,858.5" fill="none" stroke="#c83444" stroke-width="1.2"/>
<path d="M1058.5,183 L1062,176 L1065.5,183" fill="none" stroke="#c83444" stroke-width="1.2"/>
<path d="M1058.5,885.5 L1062,892.5 L1065.5,885.5" fill="none" stroke="#c83444" stroke-width="1.2"/>
<rect x="1025.5" y="499" width="12" height="69" fill="#fff"/>
<g transform="translate(1037.5,566) rotate(-90)"><text class="dm" x="0" y="0" font-size="14" textLength="47" lengthAdjust="spacingAndGlyphs">114.96</text><text class="ds" x="48.5" y="0" font-size="11.5" textLength="18" lengthAdjust="spacingAndGlyphs">mm</text></g>
<rect x="1053.5" y="499" width="12" height="69" fill="#fff"/>
<g transform="translate(1065.5,566) rotate(-90)"><text class="dm" x="0" y="0" font-size="14" textLength="47" lengthAdjust="spacingAndGlyphs">124.27</text><text class="ds" x="48.5" y="0" font-size="11.5" textLength="18" lengthAdjust="spacingAndGlyphs">mm</text></g>
</svg>
</body></html>
